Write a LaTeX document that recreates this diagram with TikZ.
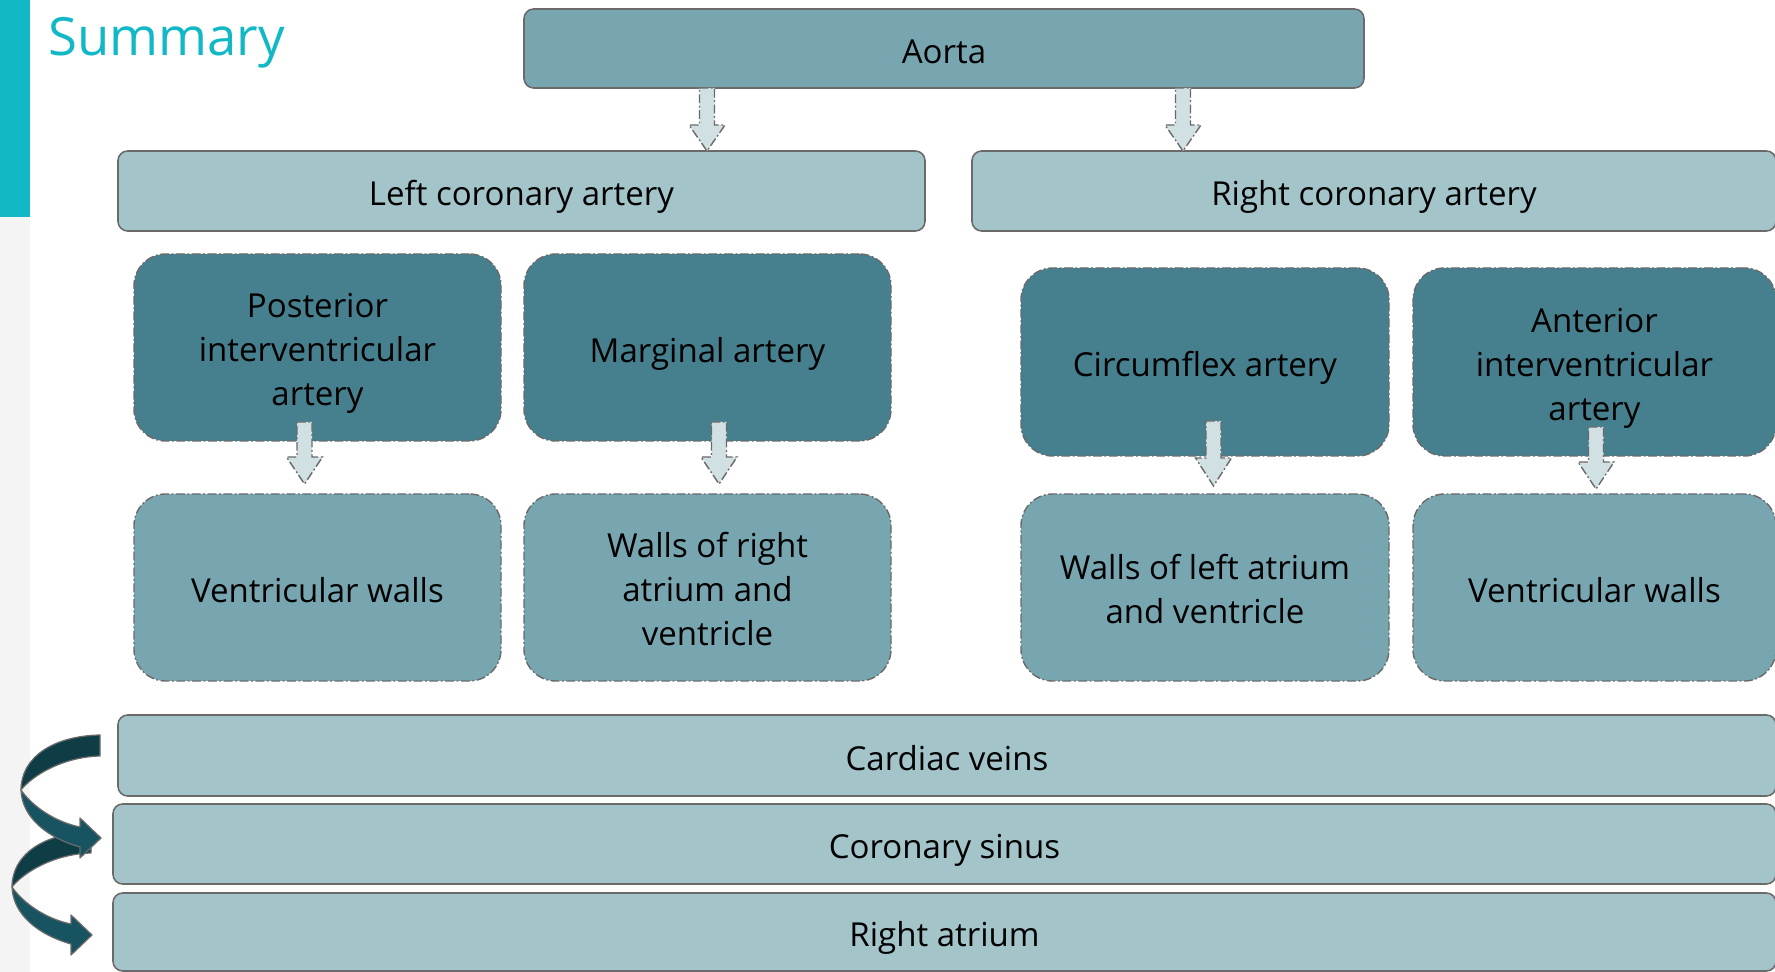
\documentclass[tikz,border=0pt]{standalone}
\usepackage{fontspec}
\setmainfont{Open Sans}
\definecolor{teal}{HTML}{12B8C5}
\definecolor{stripgray}{HTML}{F4F4F4}
\definecolor{midfill}{HTML}{77A6B1}
\definecolor{lightfill}{HTML}{A3C4C9}
\definecolor{darkfill}{HTML}{467F8D}
\definecolor{arrfill}{HTML}{D0E0E3}
\definecolor{edge}{HTML}{6A6A6A}
\definecolor{curvback}{HTML}{0F3D46}
\definecolor{curvfront}{HTML}{175361}
\newcommand\botstrut{\rule[-5.4pt]{0pt}{5.4pt}}
\newcommand\mlstrut{\rule{0pt}{21.8pt}}
\tikzset{
  boxtext/.style={align=center, inner sep=0pt, font=\fontsize{18.8}{25}\selectfont,
     execute at begin node={\rule{0pt}{22pt}}, execute at end node=\botstrut},
  solidbox/.style={boxtext, draw=edge, line width=0.9pt, rounded corners=5.5pt},
  dashbox/.style={boxtext, draw=edge, line width=0.8pt, rounded corners=18pt,
     dash pattern=on 5pt off 1.5pt on 1pt off 1.5pt},
  blockarr/.style={fill=arrfill, draw=edge, line width=0.8pt, dash pattern=on 5pt off 1.5pt on 1pt off 1.5pt},
  curvarr/.style={draw=edge, line width=0.7pt, line join=round},
}
\newcommand\blockdown[4]{% cx, top, headstart, tip
  \draw[blockarr] (#1-7.5,#2) -- (#1+7.5,#2) -- (#1+7.5,#3) -- (#1+18,#3) -- (#1,#4) -- (#1-18,#3) -- (#1-7.5,#3) -- cycle;}
\newcommand\curvedarrow[2]{% dx, dy shift
  \begin{scope}[shift={(#1,#2)}]
  \fill[curvback, curvarr] (100,735) .. controls (52,736) and (21,758) .. (21,790)
     .. controls (32,776) and (62,757) .. (100,756) -- cycle;
  \fill[curvfront, curvarr] (21,790) .. controls (22,818) and (48,838) .. (80,847)
     -- (80,858) -- (101,838) -- (80,818) -- (80,827)
     .. controls (55,822) and (32,806) .. (21,790) -- cycle;
  \end{scope}}
\begin{document}
\begin{tikzpicture}[x=0.02cm,y=-0.02cm]
\useasboundingbox (0,0) rectangle (1775,972);
% side decorations
\fill[stripgray] (0,217) rectangle (30,972);
\fill[teal] (0,0) rectangle (30,217);
\node[anchor=base west, inner sep=0pt, text=teal, font=\fontsize{30}{36}\selectfont] (title) at (48,56) {Summary};

% boxes
\node[solidbox, fill=midfill, minimum width={840*0.02cm}, minimum height={79*0.02cm}] (aorta) at (944,48.5) {Aorta};
\node[solidbox, fill=lightfill, minimum width={807*0.02cm}, minimum height={80*0.02cm}] (lca) at (521.5,191) {Left coronary artery};
\node[solidbox, fill=lightfill, minimum width={804*0.02cm}, minimum height={80*0.02cm}] (rca) at (1374,191) {Right coronary artery};

\node[dashbox, fill=darkfill, minimum width={367*0.02cm}, minimum height={187*0.02cm}] (pia) at (317.5,347.5) {\mlstrut Posterior\\interventricular\\artery};
\node[dashbox, fill=darkfill, minimum width={367*0.02cm}, minimum height={187*0.02cm}] (marg) at (707.5,347.5) {Marginal artery};
\node[dashbox, fill=darkfill, minimum width={368*0.02cm}, minimum height={188*0.02cm}] (circ) at (1205,362) {Circumflex artery};
\node[dashbox, fill=darkfill, minimum width={363*0.02cm}, minimum height={188*0.02cm}] (aia) at (1594.5,362) {\mlstrut Anterior\\interventricular\\artery};

\node[dashbox, fill=midfill, minimum width={367*0.02cm}, minimum height={187*0.02cm}] (vwl) at (317.5,587.5) {Ventricular walls};
\node[dashbox, fill=midfill, minimum width={367*0.02cm}, minimum height={187*0.02cm}] (wra) at (707.5,587.5) {\mlstrut Walls of right\\atrium and\\ventricle};
\node[dashbox, fill=midfill, minimum width={368*0.02cm}, minimum height={187*0.02cm}] (wla) at (1205,587.5) {\mlstrut Walls of left atrium\\and ventricle};
\node[dashbox, fill=midfill, minimum width={363*0.02cm}, minimum height={187*0.02cm}] (vwr) at (1594.5,587.5) {Ventricular walls};

\node[solidbox, fill=lightfill, minimum width={1658*0.02cm}, minimum height={81*0.02cm}] (cv) at (947,755.5) {Cardiac veins};
\node[solidbox, fill=lightfill, minimum width={1663*0.02cm}, minimum height={80*0.02cm}] (cs) at (944.5,844) {Coronary sinus};
\node[solidbox, fill=lightfill, minimum width={1663*0.02cm}, minimum height={78*0.02cm}] (ra) at (944.5,932) {Right atrium};

% block arrows
\blockdown{707}{88}{125}{151}
\blockdown{1183}{88}{125}{151}
\blockdown{304.5}{422}{457}{484}
\blockdown{719}{422}{457}{484}
\blockdown{1213.5}{421}{458}{486}
\blockdown{1596}{427}{462}{489}

% curved arrows
\curvedarrow{-9}{97}
\curvedarrow{0}{0}
\end{tikzpicture}
\end{document}
